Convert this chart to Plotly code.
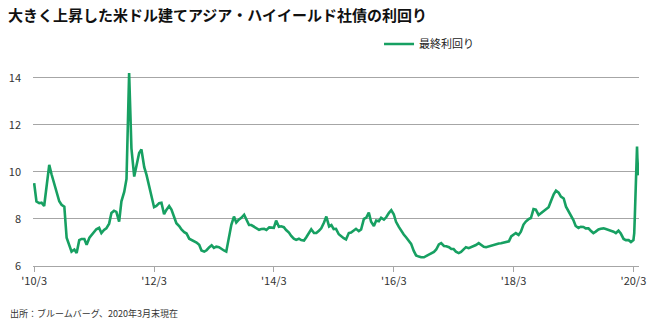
import pandas as pd
import plotly.graph_objects as go

# Semi-monthly observation dates (1st and 15th) from Mar 2010 to Mar 2020, plus March 2020 detail
base_dates = list(pd.date_range("2010-03-01", "2020-03-01", freq="SMS").strftime("%Y-%m-%d"))
extra_dates = ["2020-03-06", "2020-03-10", "2020-03-13", "2020-03-17", "2020-03-19",
               "2020-03-23", "2020-03-25", "2020-03-27", "2020-03-31"]

base_values = [
    9.52, 8.74, 8.67, 8.69, 8.55, 9.40, 10.30, 9.90, 9.50, 9.10,
    8.75, 8.60, 8.52, 7.20, 6.85, 6.61, 6.70, 6.55, 7.10, 7.15,
    7.15, 6.90, 7.20, 7.32, 7.42, 7.56, 7.62, 7.40, 7.53, 7.60,
    7.80, 8.25, 8.35, 8.30, 7.89, 8.75, 9.15, 9.70, 14.20, 11.00,
    9.80, 10.35, 10.80, 10.95, 10.20, 9.87, 9.35, 9.00, 8.50, 8.55,
    8.67, 8.69, 8.20, 8.38, 8.55, 8.40, 8.05, 7.82, 7.70, 7.55,
    7.44, 7.38, 7.16, 7.11, 7.05, 7.00, 6.90, 6.66, 6.61, 6.67,
    6.80, 6.88, 6.77, 6.82, 6.80, 6.72, 6.66, 6.61, 7.20, 7.75,
    8.10, 7.85, 7.98, 8.05, 8.18, 7.98, 7.74, 7.74, 7.67, 7.58,
    7.54, 7.57, 7.58, 7.53, 7.64, 7.63, 7.62, 7.93, 7.67, 7.69,
    7.65, 7.53, 7.42, 7.28, 7.16, 7.11, 7.16, 7.10, 7.08, 7.22,
    7.41, 7.56, 7.40, 7.40, 7.50, 7.60, 7.85, 8.10, 7.68, 7.74,
    7.57, 7.58, 7.35, 7.25, 7.18, 7.13, 7.40, 7.42, 7.49, 7.58,
    7.48, 7.55, 8.00, 8.05, 8.27, 7.88, 7.70, 7.93, 7.90, 8.05,
    7.97, 8.07, 8.26, 8.37, 8.20, 7.88, 7.66, 7.48, 7.34, 7.22,
    7.07, 6.94, 6.64, 6.45, 6.40, 6.37, 6.37, 6.43, 6.48, 6.56,
    6.60, 6.70, 6.92, 6.97, 6.85, 6.84, 6.80, 6.72, 6.72, 6.61,
    6.55, 6.60, 6.72, 6.80, 6.76, 6.80, 6.86, 6.89, 6.97, 6.90,
    6.82, 6.80, 6.84, 6.87, 6.90, 6.94, 6.96, 6.97, 6.99, 7.00,
    7.05, 7.26, 7.33, 7.40, 7.32, 7.46, 7.76, 7.89, 7.99, 8.04,
    8.42, 8.40, 8.17, 8.25, 8.35, 8.43, 8.50, 8.75, 9.05, 9.20,
    9.12, 8.95, 8.87, 8.52, 8.30, 8.15, 7.95, 7.70, 7.62, 7.67,
    7.66, 7.60, 7.60, 7.50, 7.40, 7.46, 7.55, 7.58, 7.60, 7.57,
    7.52, 7.50, 7.46, 7.40, 7.50, 7.38, 7.15, 7.10, 7.10, 7.02,
    7.10,
]
extra_values = [7.40, 8.20, 9.20, 10.30, 11.00, 11.08, 10.60, 10.00, 9.85]

dates = base_dates + extra_dates
values = base_values + extra_values

tick_vals = ["2010-03-01", "2012-03-01", "2014-03-01", "2016-03-01", "2018-03-01", "2020-03-01"]
tick_text = ["'10/3", "'12/3", "'14/3", "'16/3", "'18/3", "'20/3"]
y_ticks = [6, 8, 10, 12, 14]

series_name = "最終利回り"
title_text = "大きく上昇した米ドル建てアジア・ハイイールド社債の利回り"
source_text = "出所：ブルームバーグ、2020年3月末現在"

GREEN = "#17a062"
FONT = "Noto Sans CJK JP"

fig = go.Figure()
fig.add_trace(go.Scatter(
    x=dates, y=values, mode="lines", name=series_name,
    line=dict(color=GREEN, width=2.6),
))

fig.update_layout(
    width=661, height=326,
    margin=dict(l=33, r=22, t=66, b=60),
    paper_bgcolor="white", plot_bgcolor="white",
    font=dict(family=FONT, color="#333333", size=11),
    title=dict(text="<b>" + title_text + "</b>", x=0.012, xanchor="left",
               y=0.952, yanchor="middle", yref="container",
               font=dict(family=FONT, size=15, color="#111111")),
    showlegend=True,
    legend=dict(x=0.571, xanchor="left", y=1.11, yanchor="middle",
                orientation="h", itemwidth=30, bgcolor="rgba(0,0,0,0)",
                font=dict(family=FONT, size=11, color="#222222")),
    xaxis=dict(
        type="date", range=["2010-02-22", "2020-04-04"],
        tickvals=tick_vals, ticktext=tick_text,
        showgrid=False, showline=True, linecolor="#a6a6a6", linewidth=1,
        ticks="outside", ticklen=5, tickcolor="#a6a6a6",
        tickfont=dict(family=FONT, size=11, color="#333333"),
        zeroline=False, automargin=False,
    ),
    yaxis=dict(
        range=[6, 14.5], tickvals=y_ticks,
        showgrid=True, gridcolor="#a6a6a6", gridwidth=1,
        showline=False, zeroline=False, ticks="",
        ticklabelstandoff=11, automargin=False,
        tickfont=dict(family=FONT, size=11, color="#333333"),
    ),
    annotations=[dict(
        text=source_text, xref="paper", yref="paper",
        x=-0.041, y=-0.235, xanchor="left", yanchor="middle",
        showarrow=False, font=dict(family=FONT, size=9, color="#333333"),
    )],
)

fig.write_html("out.html")
